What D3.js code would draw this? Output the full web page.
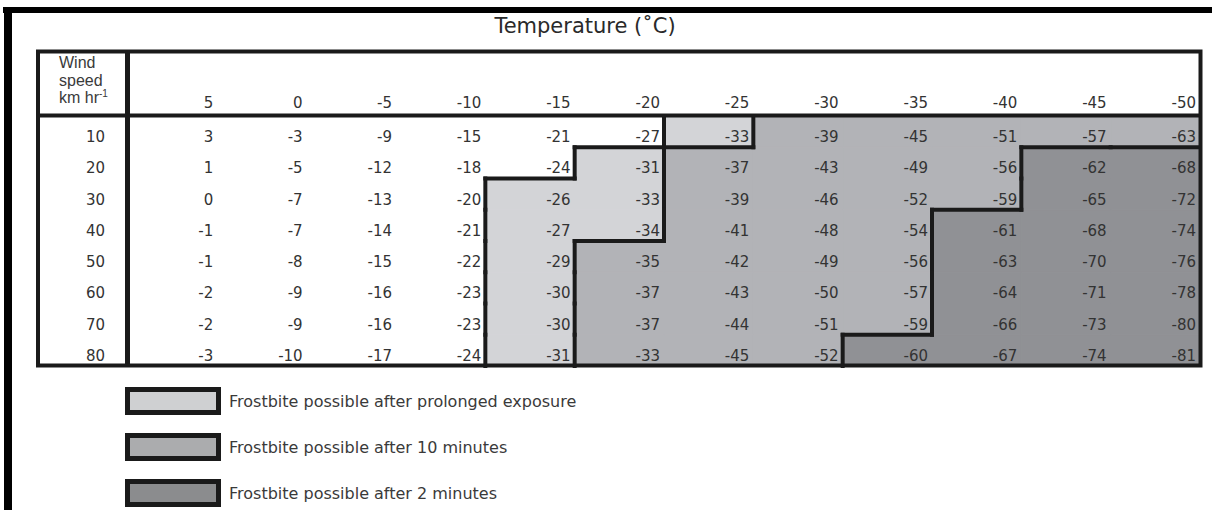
<!DOCTYPE html>
<html>
<head>
<meta charset="utf-8">
<script src="https://cdn.jsdelivr.net/npm/d3@7"></script>
<style>
  html, body { margin: 0; padding: 0; background: #fff; }
  svg { display: block; }
</style>
</head>
<body>
<svg id="chart" width="1212" height="510"></svg>
<script>
// ---- data ----
const temperatures = [5, 0, -5, -10, -15, -20, -25, -30, -35, -40, -45, -50];
const windSpeeds = [10, 20, 30, 40, 50, 60, 70, 80];
const wind10 = [3, -3, -9, -15, -21, -27, -33, -39, -45, -51, -57, -63];
const wind20 = [1, -5, -12, -18, -24, -31, -37, -43, -49, -56, -62, -68];
const wind30 = [0, -7, -13, -20, -26, -33, -39, -46, -52, -59, -65, -72];
const wind40 = [-1, -7, -14, -21, -27, -34, -41, -48, -54, -61, -68, -74];
const wind50 = [-1, -8, -15, -22, -29, -35, -42, -49, -56, -63, -70, -76];
const wind60 = [-2, -9, -16, -23, -30, -37, -43, -50, -57, -64, -71, -78];
const wind70 = [-2, -9, -16, -23, -30, -37, -44, -51, -59, -66, -73, -80];
const wind80 = [-3, -10, -17, -24, -31, -33, -45, -52, -60, -67, -74, -81];
// risk zone per cell: 0 none, 1 prolonged exposure, 2 after 10 minutes, 3 after 2 minutes
const zone10 = [0, 0, 0, 0, 0, 0, 1, 2, 2, 2, 2, 2];
const zone20 = [0, 0, 0, 0, 0, 1, 2, 2, 2, 2, 3, 3];
const zone30 = [0, 0, 0, 0, 1, 1, 2, 2, 2, 2, 3, 3];
const zone40 = [0, 0, 0, 0, 1, 1, 2, 2, 2, 3, 3, 3];
const zone50 = [0, 0, 0, 0, 1, 2, 2, 2, 2, 3, 3, 3];
const zone60 = [0, 0, 0, 0, 1, 2, 2, 2, 2, 3, 3, 3];
const zone70 = [0, 0, 0, 0, 1, 2, 2, 2, 2, 3, 3, 3];
const zone80 = [0, 0, 0, 0, 1, 2, 2, 2, 3, 3, 3, 3];
const legendLabels = [
  "Frostbite possible after prolonged exposure",
  "Frostbite possible after 10 minutes",
  "Frostbite possible after 2 minutes"
];

const values = [wind10, wind20, wind30, wind40, wind50, wind60, wind70, wind80];
const zones = [zone10, zone20, zone30, zone40, zone50, zone60, zone70, zone80];

// ---- styles ----
const zoneFill = ["#ffffff", "#d3d4d7", "#b2b3b7", "#909195"];
const legendFill = ["#cfd0d2", "#abacae", "#8b8c8e"];
const ink = "#1a1a1a";
const numFont = "'DejaVu Sans', sans-serif";

const svg = d3.select("#chart");

// frame
svg.append("rect").attr("x", 3).attr("y", 7).attr("width", 1209).attr("height", 6).attr("fill", "#000");
svg.append("rect").attr("x", 4).attr("y", 7).attr("width", 8).attr("height", 503).attr("fill", "#000");

// title
svg.append("text")
  .attr("x", 585).attr("y", 33)
  .attr("text-anchor", "middle")
  .attr("font-family", numFont)
  .attr("font-size", 21)
  .attr("fill", "#2a2a2a")
  .text("Temperature (˚C)");

// scales
const x = d3.scaleBand().domain(temperatures).range([128, 1200]).padding(0);
const y = d3.scaleBand().domain(windSpeeds).range([116, 366]).padding(0);

// cells
const cells = [];
values.forEach((row, i) => row.forEach((v, j) => cells.push({ w: windSpeeds[i], t: temperatures[j], v, z: zones[i][j], i, j })));

svg.append("g").selectAll("rect").data(cells).join("rect")
  .attr("x", d => x(d.t)).attr("y", d => y(d.w))
  .attr("width", x.bandwidth()).attr("height", y.bandwidth())
  .attr("fill", d => zoneFill[d.z])
  .attr("stroke", d => zoneFill[d.z])
  .attr("stroke-width", 1);

// values
svg.append("g").selectAll("text").data(cells).join("text")
  .attr("x", d => x(d.t) + x.bandwidth() - 4)
  .attr("y", d => y(d.w) + 26)
  .attr("text-anchor", "end")
  .attr("font-family", numFont)
  .attr("font-size", 15)
  .attr("fill", "#333")
  .text(d => d.v);

// zone boundaries
const segs = [];
cells.forEach(d => {
  if (d.j < temperatures.length - 1 && zones[d.i][d.j + 1] !== d.z) {
    const xx = x(d.t) + x.bandwidth();
    segs.push([xx, y(d.w), xx, y(d.w) + y.bandwidth()]);
  }
  if (d.i < windSpeeds.length - 1 && zones[d.i + 1][d.j] !== d.z) {
    const yy = y(d.w) + y.bandwidth();
    segs.push([x(d.t), yy, x(d.t) + x.bandwidth(), yy]);
  }
});
svg.append("g").selectAll("line").data(segs).join("line")
  .attr("x1", d => d[0]).attr("y1", d => d[1]).attr("x2", d => d[2]).attr("y2", d => d[3])
  .attr("stroke", ink).attr("stroke-width", 4).attr("stroke-linecap", "square");

// header temperatures
svg.append("g").selectAll("text").data(temperatures).join("text")
  .attr("x", d => x(d) + x.bandwidth() - 4)
  .attr("y", 108)
  .attr("text-anchor", "end")
  .attr("font-family", numFont)
  .attr("font-size", 15)
  .attr("fill", "#333")
  .text(d => d);

// wind speed labels
svg.append("g").selectAll("text").data(windSpeeds).join("text")
  .attr("x", 105)
  .attr("y", d => y(d) + 26)
  .attr("text-anchor", "end")
  .attr("font-family", numFont)
  .attr("font-size", 15)
  .attr("fill", "#333")
  .text(d => d);

// wind speed header
const wh = svg.append("text")
  .attr("font-family", "'Liberation Sans', Arial, sans-serif")
  .attr("font-size", 16)
  .attr("fill", "#3a3a3a");
wh.append("tspan").attr("x", 59).attr("y", 68).text("Wind");
wh.append("tspan").attr("x", 59).attr("y", 86).text("speed");
wh.append("tspan").attr("x", 59).attr("y", 103).text("km hr");
wh.append("tspan").attr("dy", -6).attr("font-size", 10).text("-1");

// table lines
svg.append("rect").attr("x", 38).attr("y", 51.5).attr("width", 1162.5).attr("height", 314)
  .attr("fill", "none").attr("stroke", ink).attr("stroke-width", 4);
svg.append("line").attr("x1", 38).attr("x2", 1200.5).attr("y1", 115.5).attr("y2", 115.5)
  .attr("stroke", ink).attr("stroke-width", 4);
svg.append("line").attr("x1", 127.5).attr("x2", 127.5).attr("y1", 51.5).attr("y2", 365.5)
  .attr("stroke", ink).attr("stroke-width", 5);

// legend
const lg = svg.append("g").selectAll("g").data(legendLabels).join("g")
  .attr("transform", (d, i) => `translate(0, ${i * 46})`);
lg.append("rect").attr("x", 127.5).attr("y", 389.5).attr("width", 91).attr("height", 23)
  .attr("fill", (d, i) => legendFill[i]).attr("stroke", ink).attr("stroke-width", 5);
lg.append("text").attr("x", 229).attr("y", 407)
  .attr("font-family", numFont).attr("font-size", 16).attr("fill", "#3a3a3a")
  .text(d => d);
</script>
</body>
</html>
